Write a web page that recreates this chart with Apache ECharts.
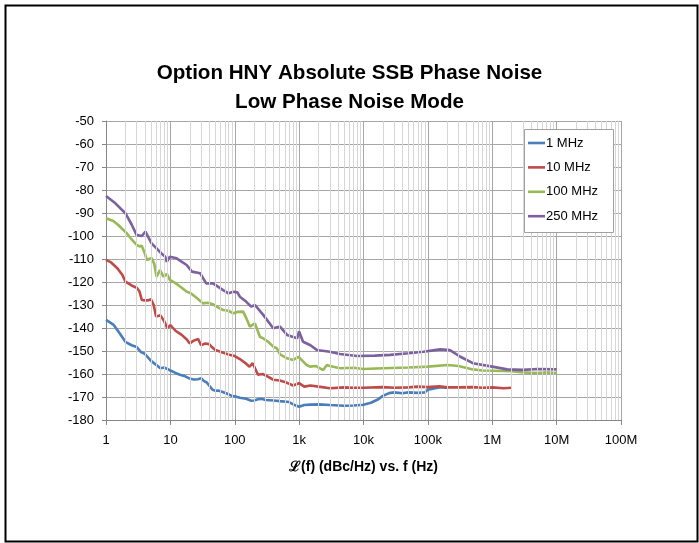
<!DOCTYPE html>
<html>
<head>
<meta charset="utf-8">
<script src="https://cdn.jsdelivr.net/npm/echarts@6/dist/echarts.min.js"></script>
<style>
  html, body { margin: 0; padding: 0; background: #fff; }
  #chart { width: 699px; height: 543px; }
</style>
</head>
<body>
<div id="chart"></div>
<script>
// offset frequency (Hz) and SSB phase noise (dBc/Hz)
var freq1MHz = [1, 1.3, 1.6, 2, 2.5, 3, 3.5, 4, 5, 6, 7, 8, 9, 10, 12, 14, 17, 20, 23, 27, 30, 33, 37, 40, 45, 50, 55, 65, 75, 90, 100, 120, 150, 180, 200, 230, 260, 300, 400, 500, 700, 850, 1000, 1200, 1500, 2000, 3000, 5000, 7000, 10000, 13000, 17000, 20000, 25000, 30000, 40000, 50000, 70000, 90000, 100000, 130000, 160000, 200000];
var pn1MHz = [-136.5, -138.5, -142, -146, -147.5, -148.3, -150.5, -151.2, -154.3, -156, -157.5, -157.2, -157.8, -158.5, -159.5, -160.3, -161, -162, -162.4, -162.3, -161.8, -163, -163.8, -165, -166.8, -167.3, -167.2, -167.8, -168.5, -169.5, -169.7, -170.3, -170.8, -171.6, -171.5, -171, -170.8, -171.3, -171.5, -171.8, -172.2, -173.5, -174.2, -173.5, -173.3, -173.2, -173.5, -173.8, -173.7, -173.4, -172.5, -171, -169.5, -168.3, -168, -168.4, -168, -168.2, -168, -166.8, -166.2, -165.8, -166];

var freq10MHz = [1, 1.2, 1.5, 1.8, 2, 2.5, 3, 3.3, 3.6, 4, 4.5, 5, 5.5, 6, 7, 8, 9, 10, 12, 15, 18, 20, 23, 27, 30, 35, 40, 45, 50, 60, 70, 80, 100, 120, 150, 170, 190, 200, 230, 270, 300, 400, 500, 600, 700, 800, 1000, 1200, 1500, 2000, 3000, 5000, 7000, 10000, 20000, 30000, 50000, 70000, 100000, 150000, 200000, 300000, 500000, 700000, 1000000, 1500000, 2000000];
var pn10MHz = [-110.4, -111.5, -114, -117, -119.8, -121.5, -122.5, -124, -127.8, -128, -128, -127.5, -130, -135, -134.5, -137, -140.1, -138.7, -141.2, -143, -145, -146.7, -145.5, -144.8, -147.5, -146.7, -147, -148.5, -149.6, -150.3, -151, -151.5, -152.2, -153.5, -155.5, -156.8, -155.3, -156, -160.3, -160, -160.6, -162.5, -162.8, -163.5, -164.2, -165, -164, -165.5, -165, -165.5, -166.2, -165.8, -166, -166, -165.7, -166, -165.8, -165.5, -165.7, -165.3, -165.8, -165.8, -165.7, -166, -165.8, -166.2, -166];

var freq100MHz = [1, 1.3, 1.55, 2.1, 2.5, 3, 3.3, 3.6, 4, 4.3, 5.1, 5.6, 6.1, 6.9, 7.8, 8.8, 9.8, 12, 15, 18, 21, 26, 32, 38, 46, 55, 66, 80, 95, 110, 135, 150, 172, 206, 246, 277, 330, 396, 450, 505, 650, 811, 977, 1150, 1310, 1480, 1800, 2360, 2700, 3000, 4300, 7000, 10000, 20000, 50000, 100000, 200000, 300000, 500000, 700000, 1000000, 2000000, 3000000, 5000000, 7000000, 10000000];
var pn100MHz = [-92.3, -93.5, -95.2, -98.8, -101.5, -103.9, -104.5, -104.3, -107.5, -110.4, -109.6, -112, -117.7, -114.8, -117.7, -116.5, -119.1, -120.5, -122.5, -124.2, -125, -127.1, -129.3, -129, -129.7, -131, -132.2, -132.5, -133.6, -133, -132.9, -135.5, -139.4, -138, -143.8, -144.5, -146, -148.1, -148.8, -151.5, -153.2, -153.9, -152.5, -154.5, -156.1, -156.8, -156.5, -158.3, -156.1, -156.5, -157.5, -157.3, -157.8, -157.5, -157.2, -156.8, -156.1, -156.5, -158, -158.5, -158.6, -158.8, -159.3, -159.6, -159.3, -159.6];

var freq250MHz = [1, 1.4, 2, 2.5, 3, 3.6, 4.1, 5.1, 6.1, 7.2, 8.3, 8.8, 9.8, 12.5, 17.9, 21.6, 29, 36, 46, 66, 80, 95, 110, 120, 150, 180, 206, 277, 396, 505, 650, 930, 1000, 1150, 1500, 1900, 3000, 4300, 8000, 15000, 26000, 50000, 85000, 155000, 220000, 320000, 500000, 1000000, 1700000, 3000000, 5000000, 10000000];
var pn250MHz = [-82.6, -85.8, -90.1, -95, -99.6, -100, -98.1, -103.2, -105.4, -107.5, -109, -111.2, -109, -109.7, -112.6, -115.5, -116.2, -120.6, -120.6, -123.5, -124.9, -124.2, -124.5, -126.4, -128.5, -130.7, -130, -134.3, -140.1, -139.4, -143, -144.5, -141.5, -146, -147.5, -149.6, -150.3, -151.3, -152.2, -152, -151.7, -151, -150.3, -149.3, -149.6, -152.5, -155.3, -156.8, -158, -158.2, -157.8, -158];

var seriesNames = ['1 MHz', '10 MHz', '100 MHz', '250 MHz'];
var seriesColors = ['#4a7ebb', '#be4b48', '#98b954', '#7d60a0'];
var xTickValues = [1, 10, 100, 1e3, 1e4, 1e5, 1e6, 1e7, 1e8];
var xTickLabels = ['1', '10', '100', '1k', '10k', '100k', '1M', '10M', '100M'];

function zip(xs, ys) {
  return xs.map(function (x, i) { return [x, ys[i]]; });
}

// minor log grid lines (2..9 in every decade)
var minorLines = [];
for (var d = 0; d < 8; d++) {
  for (var m = 2; m <= 9; m++) {
    minorLines.push({ xAxis: m * Math.pow(10, d) });
  }
}

var font = 'Liberation Sans';
var chart = echarts.init(document.getElementById('chart'));

var series = [{
  type: 'line',
  data: [],
  silent: true,
  z: 1,
  markLine: {
    silent: true,
    symbol: 'none',
    label: { show: false },
    animation: false,
    lineStyle: { color: '#d6d6d6', width: 1, type: 'solid' },
    data: minorLines
  }
}];
[[freq1MHz, pn1MHz], [freq10MHz, pn10MHz], [freq100MHz, pn100MHz], [freq250MHz, pn250MHz]].forEach(function (s, i) {
  series.push({
    name: seriesNames[i],
    type: 'line',
    data: zip(s[0], s[1]),
    showSymbol: false,
    symbol: 'none',
    z: 3,
    lineStyle: { color: seriesColors[i], width: 2.6 },
    itemStyle: { color: seriesColors[i] }
  });
});

// legend box drawn by hand (plain line key like the original)
var legendGraphic = [{
  type: 'rect',
  left: 524, top: 129,
  shape: { width: 89, height: 103 },
  style: { fill: '#fff', stroke: '#a0a0a0', lineWidth: 1 },
  z: 50
}];
seriesNames.forEach(function (n, i) {
  var y = 143 + i * 24.4;
  legendGraphic.push({
    type: 'line',
    shape: { x1: 528, y1: y, x2: 545, y2: y },
    style: { stroke: seriesColors[i], lineWidth: 2.6 },
    z: 51
  });
  legendGraphic.push({
    type: 'text',
    x: 546, y: y,
    style: { text: n, fill: '#000', font: '13px "Liberation Sans"', textVerticalAlign: 'middle' },
    z: 51
  });
});

chart.setOption({
  animation: false,
  backgroundColor: '#fff',
  title: {
    text: 'Option HNY Absolute SSB Phase Noise\nLow Phase Noise Mode',
    left: 'center',
    top: 54,
    textStyle: { fontFamily: font, fontSize: 20.6, fontWeight: 'bold', color: '#000', lineHeight: 29 }
  },
  grid: { left: 106, right: 78, top: 121, bottom: 123 },
  xAxis: {
    type: 'log',
    logBase: 10,
    min: 1,
    max: 1e8,
    splitNumber: 8,
    name: 'ℒ(f) (dBc/Hz) vs. f (Hz)',
    nameLocation: 'middle',
    nameGap: 40,
    nameTextStyle: { fontFamily: font, fontSize: 14, fontWeight: 'bold', color: '#000' },
    axisLine: { show: true, lineStyle: { color: '#868686', width: 1 } },
    axisTick: { show: true, length: 5, lineStyle: { color: '#868686' } },
    axisLabel: {
      fontFamily: font, fontSize: 13, color: '#000', margin: 14,
      formatter: function (v) {
        var i = xTickValues.indexOf(v);
        return i >= 0 ? xTickLabels[i] : '';
      }
    },
    splitLine: { show: true, lineStyle: { color: '#a6a6a6', width: 1 } }
  },
  yAxis: {
    type: 'value',
    min: -180,
    max: -50,
    interval: 10,
    axisLine: { show: true, lineStyle: { color: '#868686', width: 1 } },
    axisTick: { show: true, length: 4, lineStyle: { color: '#868686' } },
    axisLabel: { fontFamily: font, fontSize: 13, color: '#000', margin: 12 },
    splitLine: { show: true, lineStyle: { color: '#a6a6a6', width: 1 } }
  },
  graphic: legendGraphic.concat([{
    type: 'rect',
    left: 3,
    top: 3,
    shape: { width: 692, height: 536 },
    style: { fill: 'none', stroke: '#000', lineWidth: 2 },
    silent: true,
    z: 100
  }]),
  series: series
});
</script>
</body>
</html>
